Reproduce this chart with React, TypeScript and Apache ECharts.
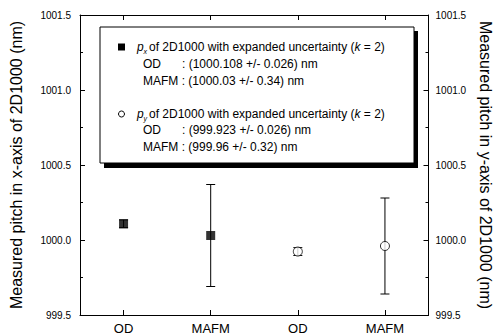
import React, { useEffect, useRef } from "react";
import * as echarts from "echarts";

const categories = ["OD", "MAFM", "OD", "MAFM"];
const pxIndex = [0, 1];
const pxValues = [1000.108, 1000.03];
const pxErrors = [0.026, 0.34];
const pyIndex = [2, 3];
const pyValues = [999.923, 999.96];
const pyErrors = [0.026, 0.32];
const yMin = 999.5;
const yMax = 1001.5;
const yInterval = 0.5;

const legendLines = [
  "OD",
  ": (1000.108 +/- 0.026) nm",
  "MAFM : (1000.03 +/- 0.34) nm",
  "OD",
  ": (999.923 +/- 0.026) nm",
  "MAFM : (999.96 +/- 0.32) nm",
];

const FONT = "'Liberation Sans', Arial, Helvetica, sans-serif";

function errorSeries(idx: number[], vals: number[], errs: number[], yAxisIndex: number) {
  return {
    type: "custom",
    yAxisIndex,
    z: 1,
    data: idx.map((x, i) => [x, vals[i], errs[i]]),
    renderItem: (params: any, api: any) => {
      const x = api.value(0);
      const v = api.value(1);
      const e = api.value(2);
      const top = api.coord([x, v + e]);
      const bot = api.coord([x, v - e]);
      const hw = 4.5;
      const st = { stroke: "#000", lineWidth: 1 };
      return {
        type: "group",
        children: [
          { type: "line", shape: { x1: top[0], y1: top[1], x2: bot[0], y2: bot[1] }, style: st },
          { type: "line", shape: { x1: top[0] - hw, y1: top[1], x2: top[0] + hw, y2: top[1] }, style: st },
          { type: "line", shape: { x1: bot[0] - hw, y1: bot[1], x2: bot[0] + hw, y2: bot[1] }, style: st },
        ],
      };
    },
  };
}

export default function App() {
  const ref = useRef<HTMLDivElement>(null);
  useEffect(() => {
    document.body.style.margin = "0";
    const chart = echarts.init(ref.current!, null, { renderer: "svg" });
    const axisCommon = {
      axisLine: { show: true, onZero: false, lineStyle: { color: "#000", width: 1 } },
      splitLine: { show: false },
    };
    const yAxisBase = {
      ...axisCommon,
      type: "value",
      min: yMin,
      max: yMax,
      interval: yInterval,
      axisTick: { show: true, inside: true, length: 5, lineStyle: { color: "#000" } },
      minorTick: { show: true, splitNumber: 2, length: 3, lineStyle: { color: "#000" } },
      axisLabel: {
        color: "#000",
        fontSize: 10,
        fontFamily: FONT,
        formatter: (v: number) => v.toFixed(1),
      },
      nameLocation: "middle",
      nameTextStyle: { color: "#000", fontSize: 16, fontFamily: FONT },
    };
    const FS = 12;
    const textStyle = { fill: "#000", fontFamily: FONT, fontSize: FS };
    const boxL = 100, boxT = 27, boxW = 314, boxH = 136, sh = 4;
    const lx = 143;
    const colonX = 182;
    const rows = [47, 64, 81, 114, 130, 147];
    const richI = { i: { fontStyle: "italic", fontFamily: FONT, fontSize: FS, fill: "#000" } };
    chart.setOption({
      animation: false,
      grid: { left: 77, right: 66, top: 15, bottom: 20 },
      xAxis: [
        {
          ...axisCommon,
          type: "category",
          data: categories,
          boundaryGap: true,
          axisTick: { show: true, inside: true, length: 5, alignWithLabel: true, lineStyle: { color: "#000" } },
          axisLabel: { color: "#000", fontSize: 13, fontFamily: FONT, margin: 7, interval: 0 },
        },
        {
          ...axisCommon,
          type: "category",
          position: "top",
          data: categories,
          boundaryGap: true,
          axisTick: { show: true, inside: true, length: 5, alignWithLabel: true, lineStyle: { color: "#000" } },
          axisLabel: { show: false },
        },
      ],
      yAxis: [
        {
          ...yAxisBase,
          position: "left",
          name: "Measured pitch in x-axis of 2D1000 (nm)",
          nameGap: 56,
          axisLabel: { ...yAxisBase.axisLabel, margin: 9 },
        },
        {
          ...yAxisBase,
          position: "right",
          name: "Measured pitch in y-axis of 2D1000 (nm)",
          nameGap: 44,
          nameRotate: -90,
          axisLabel: { ...yAxisBase.axisLabel, margin: 7 },
        },
      ],
      series: [
        errorSeries(pxIndex, pxValues, pxErrors, 0),
        errorSeries(pyIndex, pyValues, pyErrors, 1),
        {
          type: "scatter",
          yAxisIndex: 0,
          z: 3,
          symbol: "rect",
          symbolSize: 9,
          itemStyle: { color: "#000" },
          data: pxIndex.map((x, i) => [x, pxValues[i]]),
        },
        {
          type: "scatter",
          yAxisIndex: 1,
          z: 3,
          symbol: "circle",
          symbolSize: 9,
          itemStyle: { color: "#fff", borderColor: "#000", borderWidth: 1 },
          data: pyIndex.map((x, i) => [x, pyValues[i]]),
        },
      ],
      graphic: [
        { type: "rect", z: 10, shape: { x: boxL + sh, y: boxT + sh, width: boxW, height: boxH + 1 }, style: { fill: "#000" } },
        { type: "rect", z: 11, shape: { x: boxL, y: boxT, width: boxW, height: boxH }, style: { fill: "#fff", stroke: "#000", lineWidth: 1 } },
        { type: "rect", z: 12, shape: { x: 118, y: rows[0] - 3.5, width: 7, height: 7 }, style: { fill: "#000" } },
        { type: "circle", z: 12, shape: { cx: 121.5, cy: rows[3], r: 3 }, style: { fill: "#fff", stroke: "#000", lineWidth: 1 } },
        { type: "text", z: 12, x: 137, y: rows[0], style: { ...textStyle, text: "p", fontStyle: "italic", verticalAlign: "middle" } },
        { type: "text", z: 12, x: 143.5, y: rows[0] + 4, style: { ...textStyle, text: "x", fontStyle: "italic", fontSize: 7, verticalAlign: "middle" } },
        {
          type: "text", z: 12, x: 149, y: rows[0],
          style: { ...textStyle, verticalAlign: "middle", text: "of 2D1000 with expanded uncertainty ({i|k} = 2)", rich: richI },
        },
        { type: "text", z: 12, x: lx, y: rows[1], style: { ...textStyle, text: legendLines[0], verticalAlign: "middle" } },
        { type: "text", z: 12, x: colonX, y: rows[1], style: { ...textStyle, text: legendLines[1], verticalAlign: "middle" } },
        { type: "text", z: 12, x: lx, y: rows[2], style: { ...textStyle, text: legendLines[2], verticalAlign: "middle" } },
        { type: "text", z: 12, x: 137, y: rows[3], style: { ...textStyle, text: "p", fontStyle: "italic", verticalAlign: "middle" } },
        { type: "text", z: 12, x: 143.5, y: rows[3] + 4, style: { ...textStyle, text: "y", fontStyle: "italic", fontSize: 7, verticalAlign: "middle" } },
        {
          type: "text", z: 12, x: 149, y: rows[3],
          style: { ...textStyle, verticalAlign: "middle", text: "of 2D1000 with expanded uncertainty ({i|k} = 2)", rich: richI },
        },
        { type: "text", z: 12, x: lx, y: rows[4], style: { ...textStyle, text: legendLines[3], verticalAlign: "middle" } },
        { type: "text", z: 12, x: colonX, y: rows[4], style: { ...textStyle, text: legendLines[4], verticalAlign: "middle" } },
        { type: "text", z: 12, x: lx, y: rows[5], style: { ...textStyle, text: legendLines[5], verticalAlign: "middle" } },
      ],
    });
    return () => chart.dispose();
  }, []);
  return <div ref={ref} style={{ width: 501, height: 335, background: "#fff" }} />;
}
